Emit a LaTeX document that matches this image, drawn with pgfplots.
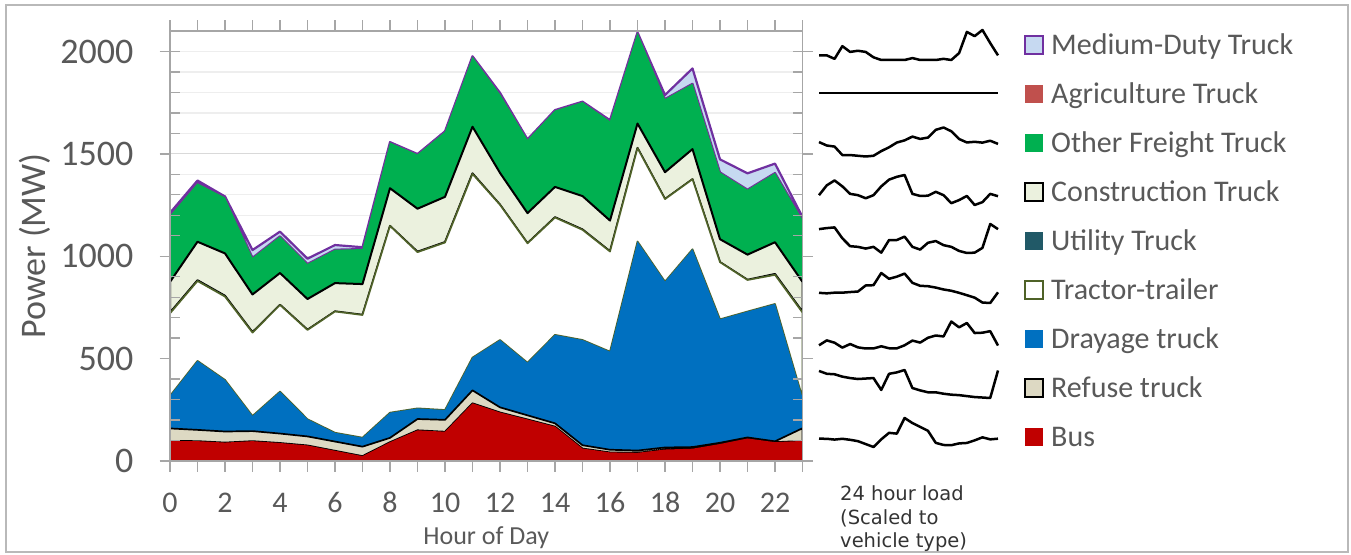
\documentclass[border=0pt]{standalone}
\usepackage{pgfplots}
\usepackage{pgfplotstable}
\pgfplotsset{compat=1.18}
\usepackage{fontspec}
\setmainfont{Carlito}
\newfontfamily\dejavu{DejaVu Sans}

\definecolor{axgray}{HTML}{A6A6A6}
\definecolor{txtgray}{HTML}{595959}
\definecolor{grmaj}{HTML}{D9D9D9}
\definecolor{grmin}{HTML}{EEEEEE}
\definecolor{busred}{HTML}{C00000}
\definecolor{refuse}{HTML}{DDD9C3}
\definecolor{dray}{HTML}{0070C0}
\definecolor{olive}{HTML}{4F6228}
\definecolor{util}{HTML}{215967}
\definecolor{cons}{HTML}{EBF1DE}
\definecolor{ofreight}{HTML}{00B050}
\definecolor{agri}{HTML}{C0504D}
\definecolor{medfill}{HTML}{C6D9F1}
\definecolor{medline}{HTML}{7030A0}

\pgfplotsset{
  layers/mylayers/.define layer set={
    axis background,axis grid,main,axis ticks,axis lines,axis tick labels,axis descriptions,axis foreground
  }{
    grid style={/pgfplots/on layer=axis grid},
    tick style={/pgfplots/on layer=axis ticks},
    axis line style={/pgfplots/on layer=axis lines},
    label style={/pgfplots/on layer=axis descriptions},
    legend style={/pgfplots/on layer=axis descriptions},
    title style={/pgfplots/on layer=axis descriptions},
    ticklabel style={/pgfplots/on layer=axis tick labels},
    axis background@ style={/pgfplots/on layer=axis background},
    3d box foreground style={/pgfplots/on layer=axis foreground},
  },
  spark/.style={scale only axis, width=179pt, hide axis, xmin=0, xmax=23,
    enlargelimits=false, clip=false, anchor=west},
  sparkline/.style={black, line width=2.5pt, line join=round, no markers},
}

\pgfplotstableread{
h  bus ref dray tract util cons other agri med
0  98  61  159  403  3.6  150  323  0  14
1  97  55  337  390  3.75 188  285  0  14
2  90  54  252  407  3.85 207  273  0  5
3  97  49  74   407  2.25 184  179  0  38
4  88  46  205  423  1.1  155  179  0  23
5  76  44  84   436  1.0  150  171  0  26
6  50  45  43   592  0.75 138  163  0  23
7  24  46  44   599  1.0  150  171  0  9
8  92  21  123  912  0.15 184  223  0  2
9  150 55  52   763  2.0  210  265  0  2
10 143 58  48   818  2.0  221  318  0  2
11 282 63  160  897  2.5  228  342  0  2
12 237 25  329  660  1.0  155  384  0  7
13 203 20  257  583  0.6  147  358  0  2
14 168 16  432  573  1.6  148  373  0  2
15 61  16  514  538  1.85 163  459  0  2
16 42  13  479  489  1.25 150  485  0  5
17 40  11  1021 456  1.0  119  443  0  2
18 56  10  810  403  0.4  131  357  0  20
19 60  8   966  342  0.1  147  319  0  75
20 83  6   603  279  0.15 112  326  0  64
21 110 5   615  154  0.85 123  317  0  80
22 92  4   671  142  4.35 155  338  0  46
23 98  62  149  416  3.6  146  303  0  14
}\data

\begin{document}
\begin{tikzpicture}
\path[draw=none] (0pt,0pt) rectangle (1351pt,554pt);
\draw[color=gray!55, line width=1.5pt] (6pt,2pt) rectangle (1348pt,549pt);

\begin{axis}[
  at={(170pt,93pt)}, anchor=south west,
  scale only axis, width=632.5pt, height=430pt,
  xmin=0, xmax=23, ymin=0, ymax=2100,
  stack plots=y,
  set layers=mylayers,
  axis line style={axgray, line width=1.3pt},
  tick style={axgray, line width=1.3pt},
  tick align=outside,
  major tick length=10.5pt, minor tick length=10.5pt,
  xtick={0,2,...,22}, minor xtick={1,3,...,23},
  ytick={0,500,...,2000},
  extra y ticks={100,200,300,400,600,700,800,900,1100,1200,1300,1400,1600,1700,1800,1900,2000},
  extra y tick labels={},
  extra y tick style={tick align=inside, major tick length=10pt, grid=major,
    major grid style={grmin, line width=1.2pt}},
  ymajorgrids, major grid style={grmaj, line width=1.2pt},
  /pgf/number format/assume math mode=true,
  /pgf/number format/1000 sep={},
  yticklabel style={font=\fontsize{36}{36}\selectfont, text=txtgray, anchor=east, inner sep=0pt, xshift=-26pt},
  xticklabel style={font=\fontsize{30}{30}\selectfont, text=txtgray, anchor=base, inner sep=0pt, yshift=-41pt},
  xlabel={Hour of Day},
  xlabel style={at={(axis description cs:0.5,-0.1953)}, anchor=base, inner sep=0pt,
    font=\fontsize{26}{26}\selectfont, text=txtgray},
  ylabel={Power (MW)},
  ylabel style={at={(axis description cs:-0.1976,0.5)}, anchor=base, inner sep=0pt,
    font=\fontsize{36}{36}\selectfont, text=txtgray},
  every axis plot/.append style={line join=round},
]
\addplot[fill=busred, draw=none] table[x=h,y=bus]{\data} \closedcycle;
\addplot[fill=refuse, draw=black, line width=1.7pt] table[x=h,y=ref]{\data} \closedcycle;
\addplot[fill=dray, draw=none] table[x=h,y=dray]{\data} \closedcycle;
\addplot[fill=white, draw=olive, line width=1.7pt] table[x=h,y=tract]{\data} \closedcycle;
\addplot[fill=util, draw=none] table[x=h,y=util]{\data} \closedcycle;
\addplot[fill=cons, draw=black, line width=2pt] table[x=h,y=cons]{\data} \closedcycle;
\addplot[fill=ofreight, draw=none] table[x=h,y=other]{\data} \closedcycle;
\addplot[fill=agri, draw=none] table[x=h,y=agri]{\data} \closedcycle;
\addplot[fill=medfill, draw=medline, line width=2.2pt] table[x=h,y=med]{\data} \closedcycle;
\end{axis}

% sparklines: 24 hour load scaled to each vehicle type
\begin{axis}[spark, at={(819pt,509pt)}, height=30pt]
\addplot[sparkline] table[x=h,y=med]{\data};
\end{axis}
\begin{axis}[spark, at={(819pt,461pt)}, height=30pt, ymin=-1, ymax=1]
\addplot[sparkline] table[x=h,y=agri]{\data};
\end{axis}
\begin{axis}[spark, at={(819pt,412pt)}, height=29pt]
\addplot[sparkline] table[x=h,y=other]{\data};
\end{axis}
\begin{axis}[spark, at={(819pt,364pt)}, height=30pt]
\addplot[sparkline] table[x=h,y=cons]{\data};
\end{axis}
\begin{axis}[spark, at={(819pt,315.5pt)}, height=29pt]
\addplot[sparkline] table[x=h,y=util]{\data};
\end{axis}
\begin{axis}[spark, at={(819pt,266pt)}, height=30pt]
\addplot[sparkline] table[x=h,y=tract]{\data};
\end{axis}
\begin{axis}[spark, at={(819pt,219pt)}, height=27pt]
\addplot[sparkline] table[x=h,y=dray]{\data};
\end{axis}
\begin{axis}[spark, at={(819pt,170pt)}, height=28pt]
\addplot[sparkline] table[x=h,y=ref]{\data};
\end{axis}
\begin{axis}[spark, at={(819pt,121.5pt)}, height=29pt]
\addplot[sparkline] table[x=h,y=bus]{\data};
\end{axis}

% legend
\begin{scope}[every node/.style={anchor=base west, inner sep=0pt, text=txtgray, font=\fontsize{30}{30}\selectfont}]
\foreach \yc/\fillc/\drawc/\name in {
  509/medfill/medline/Medium-Duty Truck,
  460/agri/none/Agriculture Truck,
  411/ofreight/none/Other Freight Truck,
  362/cons/black/Construction Truck,
  313/util/none/Utility Truck,
  264/white/olive/Tractor-trailer,
  215/dray/none/Drayage truck,
  166/refuse/black/Refuse truck,
  117/busred/none/Bus}{
  \filldraw[fill=\fillc, draw=\drawc, line width=1.5pt] (1025pt,\yc pt-9pt) rectangle (1043pt,\yc pt+9pt);
  \node at (1051pt,\yc pt-9.5pt) {\name};
}
\end{scope}

\begin{scope}[every node/.style={anchor=base west, inner sep=0pt, text=black!80, font=\dejavu\fontsize{19.5}{19.5}\selectfont}]
\node at (840pt,53.3pt) {24 hour load};
\node at (840pt,30pt) {(Scaled to};
\node at (840pt,7pt) {vehicle type)};
\end{scope}
\end{tikzpicture}
\end{document}
